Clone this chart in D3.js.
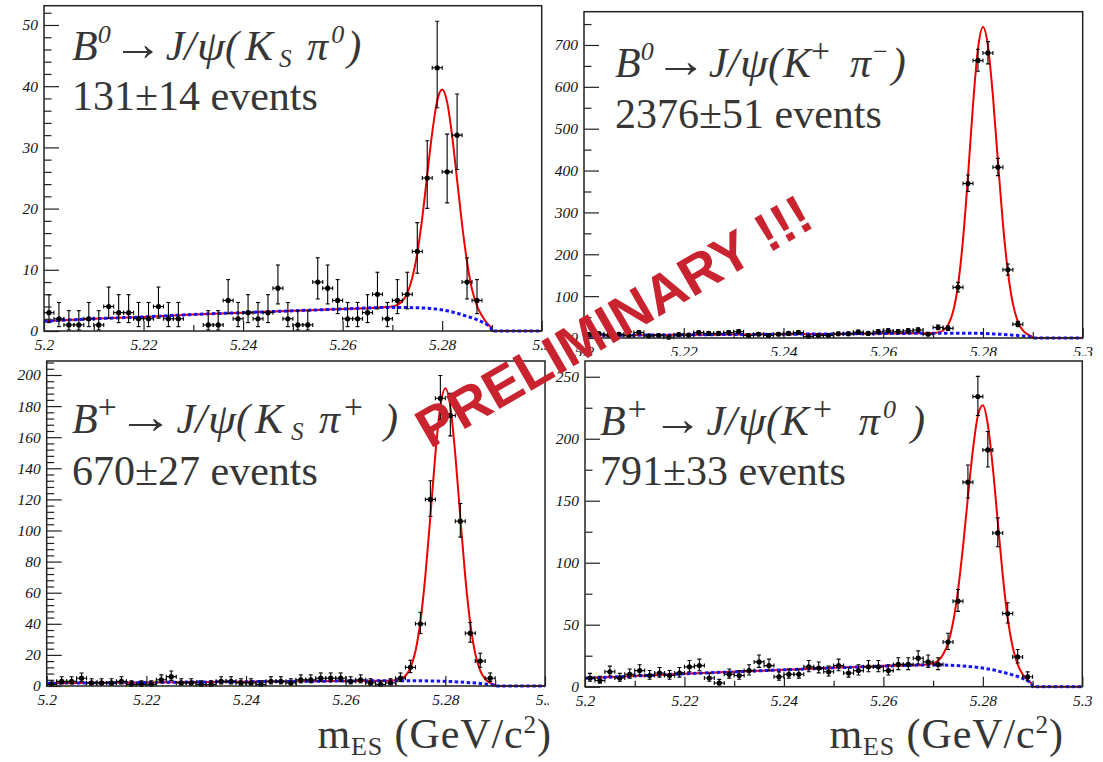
<!DOCTYPE html>
<html>
<head>
<meta charset="utf-8">
<script src="https://cdn.jsdelivr.net/npm/d3@7"></script>
<style>
  html, body { margin: 0; padding: 0; background: #fff; }
  svg { display: block; }
</style>
</head>
<body>
<svg id="chart" width="1103" height="762"></svg>
<script>
// ---------------- DATA ----------------
// bin centres of the m_ES histograms (GeV/c^2), bin width 0.002
const massBins = [5.201,5.203,5.205,5.207,5.209,5.211,5.213,5.215,5.217,5.219,
                  5.221,5.223,5.225,5.227,5.229,5.231,5.233,5.235,5.237,5.239,
                  5.241,5.243,5.245,5.247,5.249,5.251,5.253,5.255,5.257,5.259,
                  5.261,5.263,5.265,5.267,5.269,5.271,5.273,5.275,5.277,5.279,
                  5.281,5.283,5.285,5.287,5.289];
const binHalfWidth = 0.001;

// event counts per bin (null = empty bin, not drawn)
const countsKsPi0 = [3,2,1,1,2,1,4,3,3,2, 2,4,2,2,null,null,1,1,5,2, 3,2,3,7,2,1,1,8,7,5, 2,2,3,6,2,5,6,13,25,43, 26,32,8,5,null];
const countsKPi   = [8,10,7,9,6,13,5,6,2,8, 7,13,11,11,13,15,6,9,6,9, 11,13,4,6,6,10,10,14,11,15, 17,15,17,19,9,25,23,121,369,663, 681,408,163,33,null];
const countsKsPip = [1,3,3,5,2,2,2,3,1,1, 1,4,6,2,2,1,1,3,3,2, 2,1,3,3,2,4,4,5,5,5, 3,4,2,1,2,5,12,40,120,185, 174,106,34,16,5];
const countsKpPi0 = [7,5,12,7,10,13,9,11,9,11, 16,17,7,3,10,9,13,20,17,8, 10,10,16,15,12,17,11,13,16,16, 13,18,18,23,20,18,36,69,165,234, 191,124,59,24,8];

// background (ARGUS) curve
const bkgX = [5.200,5.210,5.220,5.230,5.240,5.250,5.260,5.270,5.275,5.280,5.283,5.285,5.287,5.288,5.289,5.2895,5.2898,5.290,5.300];
const bkgKsPi0  = [1.6,2.0,2.3,2.7,3.0,3.3,3.6,3.85,3.8,3.45,2.9,2.4,1.85,1.5,1.05,0.75,0.48,0,0];
const bkgKPi    = [6,6.8,7.5,8.3,9,9.8,10.5,11.5,11.6,11,9.2,7.8,6.0,4.9,3.5,2.5,1.6,0,0];
const bkgKsPip  = [1.8,2.05,2.3,2.55,2.8,3.0,3.2,3.4,3.35,3.0,2.55,2.15,1.65,1.35,0.95,0.67,0.43,0,0];
const bkgKpPi0  = [6.8,8.6,10.4,12.0,13.6,15.2,16.6,17.6,17.0,15.0,12.7,10.6,8.2,6.7,4.7,3.3,2.1,0,0];

// total fit curve (signal + background)
const totX = [5.200,5.210,5.220,5.230,5.240,5.250,5.260,5.266,5.268,5.270,5.271,5.272,5.273,5.274,5.275,5.276,5.277,5.278,5.279,5.280,5.281,5.282,5.283,5.284,5.285,5.286,5.287,5.288,5.289,5.2895,5.2898,5.290,5.300];
const totKsPi0 = [1.6,2.0,2.3,2.7,3.0,3.3,3.6,3.75,3.9,4.0,4.25,4.9,6.2,8.7,12.7,18.5,25.5,32.4,37.6,39.45,37.4,31.9,24.7,17.4,11.3,6.8,4.1,2.5,1.3,0.85,0.55,0,0];
const totKPi   = [6,6.8,7.5,8.3,9,9.8,10.5,11.1,11.4,11.9,13.4,18,31,62.5,126.5,235.4,387,556,691,743,698,577.5,422,274,158,82,39,18,8.2,5.3,3.2,0,0];
const totKsPip = [1.8,2.05,2.3,2.55,2.8,3.0,3.2,3.3,3.4,3.7,4.5,6.6,11.7,22.3,41.7,71.2,109.2,149.1,179.8,191.5,179.7,148.8,108.6,70.2,40.4,20.8,9.9,4.5,2.0,1.25,0.75,0,0];
const totKpPi0 = [6.8,8.6,10.4,12.0,13.6,15.2,16.6,17.2,17.5,18.9,21,26,35,51.6,77.5,112.5,153,191,218.5,227,211.5,177,133,90,55,32,18,10,5.5,3.8,2.5,0,0];

// axis tick labels
const xTickLabels = ["5.2","5.22","5.24","5.26","5.28","5.3"];
const xMinorTicks = ["5.21","5.23","5.25","5.27","5.29"];
const yMaxima   = [53.15, 779.5, 209, 262.7];
const yMajorStep = [10, 100, 20, 50];
const yMinorStep = [2, 50, 4, 25];

// texts
const yieldTexts = ["131±14 events", "2376±51 events", "670±27 events", "791±33 events"];
const watermarkText = "PRELIMINARY !!!";

// ---------------- LAYOUT ----------------
const layout = [
  {x0: 44,   x1: 541.7,  y0: 5.7,  y1: 331,   pad: [0, 0, 549, 356],    tx: 72,  ty: 60,  ey: 110},
  {x0: 584,  x1: 1082.7, y0: 11.7, y1: 338,   pad: [549, 0, 554, 356],  tx: 615, ty: 77,  ey: 128},
  {x0: 46.7, x1: 545,    y0: 361,  y1: 686,   pad: [0, 356, 549, 406],  tx: 72,  ty: 433, ey: 485},
  {x0: 585,  x1: 1082.3, y0: 361,  y1: 686.7, pad: [549, 356, 554, 406],tx: 600, ty: 435, ey: 485}
];

const countsAll = [countsKsPi0, countsKPi, countsKsPip, countsKpPi0];
const bkgAll = [bkgKsPi0, bkgKPi, bkgKsPip, bkgKpPi0];
const totAll = [totKsPi0, totKPi, totKsPip, totKpPi0];

// title pieces (gap = extra space before the piece, px)
const SUP = {k: 0.62, v: 0.40}, SUB = {k: 0.6, v: -0.17}, PLUS = {k: 0.8, v: 0.36, up: true};
const ARROW = {t: "→", up: true, sy: 1.15};
const PSI = {t: "ψ", w: 28, gap: 1};
const titles = [
  [{t:"B"},{t:"0",...SUP},{...ARROW,gap:2,w:50},{t:"J/",gap:3},PSI,{t:"("},{t:"K",gap:6},{t:"S",...SUB,gap:6},{t:"π",gap:15.5},{t:"0",...SUP,gap:3},{t:")",gap:3}],
  [{t:"B"},{t:"0",...SUP},{...ARROW,gap:1,w:52},{t:"J/",gap:2},PSI,{t:"("},{t:"K",gap:1},{t:"+",...PLUS},{t:"π",gap:20},{t:"−",...SUP,up:true,gap:2},{t:")",gap:4}],
  [{t:"B"},{t:"+",...PLUS},{...ARROW,gap:1,w:56},{t:"J/",gap:3},PSI,{t:"("},{t:"K",gap:5},{t:"S",...SUB,gap:8},{t:"π",gap:15.5},{t:"+",...PLUS,gap:4},{t:")",gap:21}],
  [{t:"B"},{t:"+",...PLUS,gap:2},{...ARROW,gap:6,w:50},{t:"J/",gap:4},PSI,{t:"("},{t:"K",gap:1},{t:"+",...PLUS,gap:4},{t:"π",gap:27},{t:"0",...SUP,gap:3},{t:")",gap:15}]
];

const svg = d3.select("#chart");
const TXT = "#363636";
const SERIF = "'Liberation Serif','Times New Roman',serif";

// Gehrels approximation of the Poisson 68% interval (for error bars)
function poissonLo(n) { return n * Math.pow(1 - 1/(9*n) - 1/(3*Math.sqrt(n)), 3); }
function poissonHi(n) { return n + Math.sqrt(n + 0.75) + 1; }

// lays out pieces as separate text elements, left to right
function pieceText(g, x0, y0, parts, size, italic) {
  let x = x0;
  parts.forEach(p => {
    x += (p.gap || 0);
    const fs = size * (p.k || 1);
    const yy = y0 - (p.v || 0) * size;
    const t = g.append("text")
      .attr("font-family", SERIF).attr("font-size", fs).attr("fill", TXT).text(p.t);
    if (italic && !p.up) t.attr("font-style", "italic");
    let w = t.node().getComputedTextLength();
    if (p.w) {
      t.attr("transform", `translate(${x},${yy}) scale(${p.w / w},${p.sy || 1})`);
      w = p.w;
    } else {
      t.attr("x", x).attr("y", yy);
    }
    x += w;
  });
  return x;
}

function richText(g, x, y, parts, size) {
  const text = g.append("text")
    .attr("x", x).attr("y", y)
    .attr("font-family", SERIF)
    .attr("font-size", size)
    .attr("fill", TXT)
    .attr("xml:space", "preserve")
    .style("white-space", "pre");
  let shift = 0;
  parts.forEach(p => {
    const ts = text.append("tspan").text(p.t);
    const k = p.k || 1;
    const target = -(p.v || 0) * size;
    if (k !== 1) ts.attr("font-size", size * k);
    ts.attr("dy", target - shift);
    shift = target;
  });
  return text;
}

layout.forEach((L, i) => {
  const [px, py, pw, ph] = L.pad;
  const clipId = "pad" + i;
  svg.append("clipPath").attr("id", clipId)
    .append("rect").attr("x", px).attr("y", py).attr("width", pw).attr("height", ph);
  const frameClip = "frame" + i;
  svg.append("clipPath").attr("id", frameClip)
    .append("rect").attr("x", L.x0).attr("y", L.y0 - 2).attr("width", L.x1 - L.x0).attr("height", L.y1 - L.y0 + 4);

  const g = svg.append("g").attr("clip-path", `url(#${clipId})`);
  g.append("rect").attr("x", px).attr("y", py).attr("width", pw).attr("height", ph).attr("fill", "#fff");

  const x = d3.scaleLinear().domain([5.2, 5.3]).range([L.x0, L.x1]);
  const y = d3.scaleLinear().domain([0, yMaxima[i]]).range([L.y1, L.y0]);

  // title + yield
  pieceText(g, L.tx, L.ty, titles[i], 42, true);
  richText(g, L.tx, L.ey, [{t: yieldTexts[i]}], 42);

  // curves
  const plot = g.append("g").attr("clip-path", `url(#${frameClip})`);
  const line = d3.line().x(d => x(d[0])).y(d => y(d[1])).curve(d3.curveMonotoneX);
  const tot = totX.map((v, k) => [v, totAll[i][k]]);
  const bkg = bkgX.map((v, k) => [v, bkgAll[i][k]]);
  plot.append("path").attr("d", line(tot)).attr("fill", "none")
    .attr("stroke", "#ee0000").attr("stroke-width", 2);
  plot.append("path").attr("d", line(bkg)).attr("fill", "none")
    .attr("stroke", "#1414ff").attr("stroke-width", 3).attr("stroke-dasharray", "3.5,2.5");

  // data points with error bars
  const pts = massBins.map((m, k) => ({m, n: countsAll[i][k]})).filter(d => d.n != null);
  const pg = plot.append("g").attr("stroke", "#000").attr("stroke-width", 1.1);
  pts.forEach(d => {
    const cx = x(d.m), cy = y(d.n);
    const lo = y(poissonLo(d.n)), hi = y(poissonHi(d.n));
    const xl = x(d.m - binHalfWidth), xr = x(d.m + binHalfWidth);
    pg.append("line").attr("x1", cx).attr("x2", cx).attr("y1", lo).attr("y2", hi);
    pg.append("line").attr("x1", cx - 2).attr("x2", cx + 2).attr("y1", lo).attr("y2", lo);
    pg.append("line").attr("x1", cx - 2).attr("x2", cx + 2).attr("y1", hi).attr("y2", hi);
    pg.append("line").attr("x1", xl).attr("x2", xr).attr("y1", cy).attr("y2", cy);
    pg.append("line").attr("x1", xl).attr("x2", xl).attr("y1", cy - 2).attr("y2", cy + 2);
    pg.append("line").attr("x1", xr).attr("x2", xr).attr("y1", cy - 2).attr("y2", cy + 2);
    pg.append("circle").attr("cx", cx).attr("cy", cy).attr("r", 2.6).attr("fill", "#000").attr("stroke", "none");
  });

  // axes
  const yMajors = d3.range(0, yMaxima[i] + 1e-9, yMajorStep[i]);
  const yMinors = d3.range(0, yMaxima[i] + 1e-9, yMinorStep[i]).filter(v => Math.abs(v / yMajorStep[i] - Math.round(v / yMajorStep[i])) > 1e-6);
  const styleAxis = sel => {
    sel.select(".domain").remove();
    sel.selectAll("line").attr("stroke", "#222").attr("stroke-width", 1.2);
    sel.selectAll("text").attr("font-family", SERIF).attr("font-style", "italic")
      .attr("font-size", 15.5).attr("fill", "#111");
  };
  g.append("g").attr("transform", `translate(${L.x0},0)`)
    .call(d3.axisLeft(y).tickValues(yMajors).tickSize(-15).tickPadding(6).tickFormat(d3.format("d")))
    .call(styleAxis);
  g.append("g").attr("transform", `translate(${L.x0},0)`)
    .call(d3.axisLeft(y).tickValues(yMinors).tickSize(-7.5).tickFormat(""))
    .call(styleAxis);
  g.append("g").attr("transform", `translate(0,${L.y1})`)
    .call(d3.axisBottom(x).tickValues(xTickLabels.map(Number)).tickSize(-10).tickPadding(8)
      .tickFormat((d, k) => xTickLabels[k]))
    .call(styleAxis);
  g.append("g").attr("transform", `translate(0,${L.y1})`)
    .call(d3.axisBottom(x).tickValues(xMinorTicks.map(Number)).tickSize(-6).tickFormat(""))
    .call(styleAxis);

  // frame
  g.append("rect").attr("x", L.x0).attr("y", L.y0).attr("width", L.x1 - L.x0).attr("height", L.y1 - L.y0)
    .attr("fill", "none").attr("stroke", "#222").attr("stroke-width", 1.5);
});

// axis titles
const axisTitle = [{t:"m"},{t:"ES",k:0.62,v:-0.16},{t:" (GeV/c"},{t:"2",k:0.6,v:0.36},{t:")"}];
[552, 1064].forEach(xe => {
  const t = richText(svg, 0, 748, axisTitle, 42).attr("letter-spacing", 0.9);
  const w = t.node().getComputedTextLength();
  t.attr("x", xe - w);
});

// watermark
svg.append("text")
  .attr("transform", "translate(430,449) rotate(-30)")
  .attr("font-family", "'Liberation Sans', Arial, sans-serif")
  .attr("font-weight", "bold")
  .attr("font-size", 55)
  .attr("fill", "#c8232e")
  .text(watermarkText);
</script>
</body>
</html>
